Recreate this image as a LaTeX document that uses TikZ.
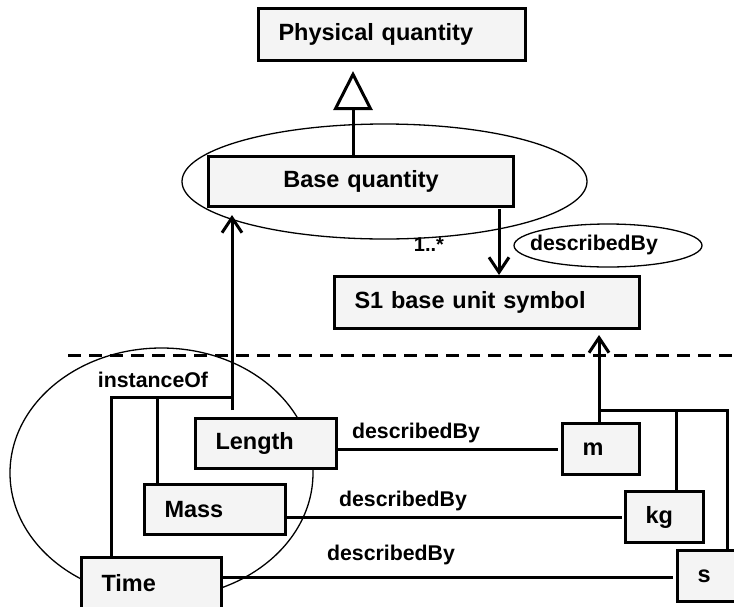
\documentclass[tikz,border=0pt]{standalone}
\usepackage{fontspec}
\setmainfont{Liberation Sans}
\usetikzlibrary{arrows.meta,shapes.geometric}
\definecolor{boxgray}{HTML}{F4F4F4}
\newcommand{\boxfont}{\bfseries\fontsize{23.5}{28}\selectfont}
\newcommand{\lblfont}{\bfseries\fontsize{21.3}{25}\selectfont}
\begin{document}
\begin{tikzpicture}[x=1pt,y=-1pt,
  umlbox/.style={draw, line width=3pt, fill=boxgray, font=\boxfont, anchor=north west,
    inner xsep=20pt, inner ysep=0pt, align=left},
  conn/.style={line width=3pt},
  arr/.style={conn, -{Straight Barb[length=15pt,width=20pt,line width=3pt]}},
  gen/.style={conn, -{Triangle[open,length=39pt,width=39pt,line width=3pt]}},
  ell/.style={line width=1.3pt},
  lbl/.style={font=\lblfont, inner sep=0pt},
  sep/.style={line width=3pt, dash pattern=on 13pt off 8pt}]
\useasboundingbox (0,0) rectangle (734,606);
% big ellipses
\draw[ell] (384.5,181.5) ellipse [x radius=202.5pt, y radius=57.5pt];
\draw[ell] (161.5,473) ellipse [x radius=151.5pt, y radius=125pt];
% separator
\coordinate (sepL) at (68,355);
\coordinate (sepR) at (734,355);
\draw[sep] (sepL) -- (sepR);
% boxes
\node[umlbox, text width=227pt, minimum height=52pt] (pq) at (257,7) {Physical quantity};
\node[umlbox, text width=265pt, minimum height=50pt, align=center] (bq) at (207,155) {Base quantity};
\node[umlbox, text width=265pt, minimum height=52pt] (s1) at (333,275) {S1 base unit symbol};
\node[umlbox, text width=101pt, minimum height=50pt] (len) at (194,417) {Length};
\node[umlbox, text width=101pt, minimum height=50pt] (mass) at (143,483) {Mass};
\node[umlbox, text width=100pt, minimum height=52pt] (time) at (80,556) {Time};
\node[umlbox, text width=37pt, minimum height=51pt] (m) at (561,422) {m};
\node[umlbox, text width=38pt, minimum height=51pt] (kg) at (624,490) {kg};
\node[umlbox, text width=40pt, minimum height=51pt] (s) at (676,549) {s};
% describedBy ellipse
\node[draw, ellipse, line width=1.3pt, minimum width=188pt, minimum height=43pt, inner sep=0pt] (dbe) at (608,245.5) {};
\node[lbl] (dbt) at (594,245) {describedBy};
% generalization
\draw[gen, shorten >=9pt] (bq.north -| 353,0) -- (pq.south -| 353,0);
% base quantity -> S1
\coordinate (bqd) at (499,209);
\draw[arr] (bqd) -- (bqd |- s1.north);
\node[lbl, font=\bfseries\fontsize{20}{24}\selectfont] (mult) at (429,245) {1..*};
% instanceOf tree
\coordinate (t1) at (111,397);
\coordinate (t2) at (157,397);
\coordinate (t3) at (232,397);
\coordinate (lenTop) at (232,410);
\draw[conn] (time.north -| t1) -- (t1) -- (t3);
\draw[conn] (mass.north -| t2) -- (t2);
\draw[arr, shorten >=7pt] (lenTop) -- (lenTop |- bq.south);
\node[lbl] (inst) at (153,380) {instanceOf};
% unit tree
\coordinate (u1) at (599,410);
\coordinate (u2) at (676,410);
\coordinate (u3) at (727,410);
\draw[arr, shorten >=5pt] (m.north -| u1) -- (u1 |- s1.south);
\draw[conn] (u1) -- (u3) -- (s.north -| u3);
\draw[conn] (u2) -- (kg.north -| u2);
% describedBy links
\coordinate (yA) at (0,449);
\coordinate (yB) at (0,517);
\coordinate (yC) at (0,577);
\draw[conn, shorten >=3pt] (len.east |- yA) -- (m.west |- yA);
\draw[conn, shorten >=2pt] (mass.east |- yB) -- (kg.west |- yB);
\draw[conn, shorten >=3pt] (time.east |- yC) -- (s.west |- yC);
\node[lbl] (dA) at (416,433) {describedBy};
\node[lbl] (dB) at (403,501) {describedBy};
\node[lbl] (dC) at (391,555) {describedBy};
\end{tikzpicture}
\end{document}
